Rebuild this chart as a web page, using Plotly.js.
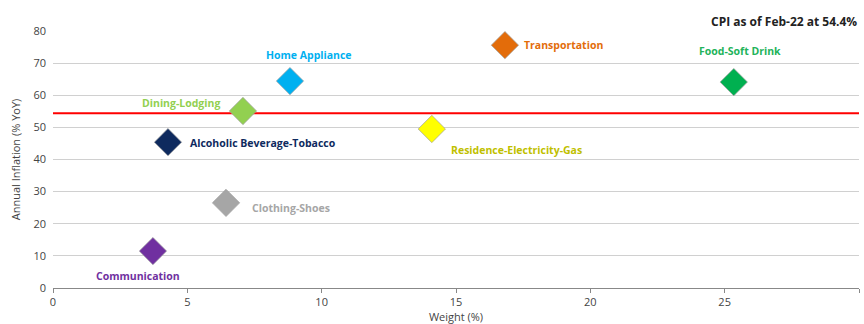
<!DOCTYPE html>
<html><head><meta charset="utf-8">
<script src="https://cdn.plot.ly/plotly-3.0.1.min.js"></script>
<style>html,body{margin:0;padding:0;background:#fff}#chart{width:864px;height:324px}</style>
</head><body><div id="chart"></div>
<script>
const categories = ["Communication","Alcoholic Beverage-Tobacco","Clothing-Shoes","Dining-Lodging","Home Appliance","Residence-Electricity-Gas","Transportation","Food-Soft Drink"];
const weights = [3.72, 4.28, 6.44, 7.07, 8.82, 14.1, 16.82, 25.34];
const inflation = [11.5, 45.4, 26.5, 55.1, 64.4, 49.5, 75.6, 64.1];
const cpi = 54.4;
const xTicks = [0,5,10,15,20,25,30];
const yTicks = [0,10,20,30,40,50,60,70,80];

const markerColors = ["#7030A0","#0E2A5E","#A6A6A6","#92D050","#00B0F0","#FFFF00","#E36C0A","#00B050"];
const labelColors = ["#7030A0","#0E2A5E","#A6A6A6","#92D050","#00B0F0","#BFBF00","#E36C0A","#22B35A"];
const lbl = [
  {xa:"center", dx:-15, dy:-25},
  {xa:"left", dx:20, dy:-1},
  {xa:"left", dx:24, dy:-5},
  {xa:"right", dx:-21, dy:8},
  {xa:"center", dx:19, dy:26},
  {xa:"left", dx:17, dy:-21},
  {xa:"left", dx:17, dy:0},
  {xa:"center", dx:6, dy:31}
];
const font = "'Open Sans', Lato, sans-serif";

const traces = [
  {x:[0,30], y:[cpi,cpi], mode:"lines", line:{color:"#FF0000", width:2}, hoverinfo:"skip", showlegend:false},
  {x:weights, y:inflation, mode:"markers", type:"scatter", text:categories,
   marker:{symbol:"diamond", size:21, color:markerColors, line:{color:"rgba(160,160,160,0.7)", width:1}},
   showlegend:false}
];

const annotations = categories.map((c,i)=>({
  x:weights[i], y:inflation[i], xref:"x", yref:"y", text:"<b>"+c+"</b>", showarrow:false,
  xanchor:lbl[i].xa, yanchor:"middle", xshift:lbl[i].dx, yshift:lbl[i].dy,
  font:{family:font, size:10.5, color:labelColors[i]}
}));
annotations.push({xref:"paper", yref:"paper", x:1.0, y:1.0, yshift:-1, xanchor:"right", yanchor:"bottom",
  text:"<b>CPI as of Feb-22 at " + cpi + "%</b>", showarrow:false, font:{family:font, size:12, color:"#222"}});

const layout = {
  width:864, height:324, margin:{l:53, r:5, t:31, b:36},
  paper_bgcolor:"#fff", plot_bgcolor:"#fff",
  font:{family:font, size:11, color:"#444"},
  xaxis:{range:[0,30], tickvals:xTicks, showgrid:false, zeroline:false, showline:true, linecolor:"#888", linewidth:1,
    ticks:"outside", ticklen:4, tickcolor:"#888", tickfont:{size:11, color:"#444"},
    title:{text:"Weight (%)", font:{size:11, color:"#444"}, standoff:6}},
  yaxis:{range:[0,80], tickvals:yTicks, showgrid:true, gridcolor:"#d0d0d0", gridwidth:1, zeroline:false, showline:false,
    tickfont:{size:11, color:"#444"}, ticklabelstandoff:6,
    title:{text:"Annual Inflation (% YoY)", font:{size:11, color:"#444"}, standoff:10}},
  annotations:annotations
};
Plotly.newPlot("chart", traces, layout, {staticPlot:true, displayModeBar:false});
</script></body></html>
